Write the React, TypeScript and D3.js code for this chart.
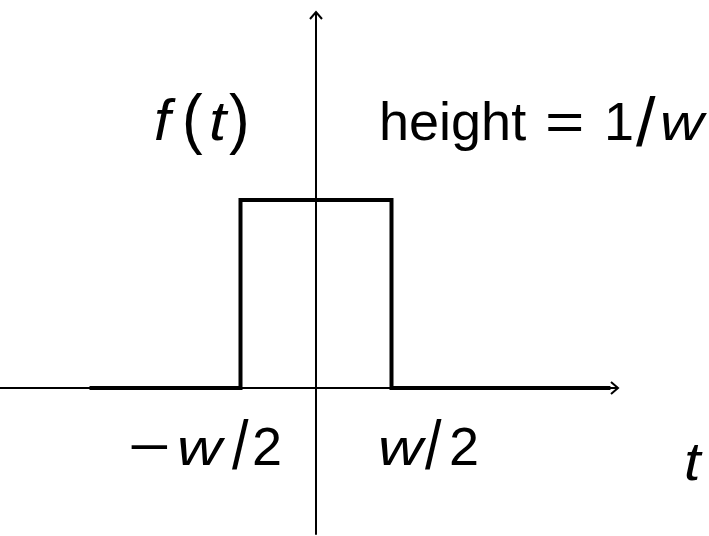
import React from "react";
import * as d3 from "d3";

// Rectangular pulse of width w and height 1/w (w = 1)
const pulseT = [-1.5, -0.5, -0.5, 0.5, 0.5, 1.95];
const pulseF = [0, 0, 1, 1, 0, 0];
const tAxisExtent = [-2.1, 2.0];
const fAxisExtent = [-0.78, 2.0];

const W = 709;
const H = 536;
const FONT = "'Liberation Sans', Arial, sans-serif";
const FS = 54;

type GlyphProps = {
  x: number;
  y: number;
  italic?: boolean;
  sx?: number;
  sy?: number;
  children: React.ReactNode;
};

// One glyph on its own baseline, stretched about that baseline when needed
function G({ x, y, italic = false, sx = 1, sy = 1, children }: GlyphProps) {
  return (
    <text
      transform={`translate(${x},${y}) scale(${sx},${sy})`}
      fontSize={FS}
      fontStyle={italic ? "italic" : "normal"}
    >
      {children}
    </text>
  );
}

export default function App() {
  const x = d3.scaleLinear().domain([-0.5, 0.5]).range([240.5, 391.5]);
  const y = d3.scaleLinear().domain([0, 1]).range([388, 200]);

  const pulseLine = d3
    .line<number>()
    .x((_, i) => x(pulseT[i]))
    .y((d) => y(d))
    .curve(d3.curveLinear);

  const x0 = x(0);
  const y0 = y(0);
  const xEnd = x(tAxisExtent[1]);
  const yTop = y(fAxisExtent[1]);
  const aL = 7;
  const aW = 6;

  const topBase = 140;
  const lowBase = 465;

  return (
    <svg
      width={W}
      height={H}
      style={{ position: "absolute", left: 0, top: 0, background: "#fff" }}
      fontFamily={FONT}
      fill="#000"
    >
      {/* axes */}
      <line x1={x(tAxisExtent[0])} x2={xEnd} y1={y0} y2={y0} stroke="#000" strokeWidth={2} />
      <line x1={x0} x2={x0} y1={y(fAxisExtent[0])} y2={yTop} stroke="#000" strokeWidth={2} />
      <path
        d={`M${xEnd - aL},${y0 - aW} L${xEnd},${y0} L${xEnd - aL},${y0 + aW}`}
        fill="none"
        stroke="#000"
        strokeWidth={2}
      />
      <path
        d={`M${x0 - aW},${yTop + aL} L${x0},${yTop} L${x0 + aW},${yTop + aL}`}
        fill="none"
        stroke="#000"
        strokeWidth={2}
      />

      {/* pulse */}
      <path
        d={pulseLine(pulseF) ?? ""}
        fill="none"
        stroke="#000"
        strokeWidth={4}
        strokeLinejoin="miter"
      />

      {/* f(t) */}
      <G x={154} y={topBase} italic sx={1.1} sy={1.05}>f</G>
      <G x={182} y={topBase + 1} sx={1.15} sy={1.22}>(</G>
      <G x={209} y={topBase} italic sx={1.15} sy={1.03}>t</G>
      <G x={229} y={topBase + 1} sx={1.15} sy={1.22}>)</G>

      {/* height = 1/w */}
      <G x={379} y={topBase}>height</G>
      <G x={545} y={topBase} sx={1.25}>=</G>
      <G x={604} y={topBase}>1</G>
      <G x={636} y={topBase + 6} sx={1.3} sy={1.27}>/</G>
      <G x={660} y={topBase} italic sx={1.12} sy={0.92}>w</G>

      {/* -w/2 */}
      <G x={128} y={lowBase} sx={1.35}>−</G>
      <G x={177} y={lowBase} italic sx={1.15} sy={0.92}>w</G>
      <G x={232} y={lowBase + 4} sx={1.1} sy={1.27}>/</G>
      <G x={252} y={lowBase}>2</G>

      {/* w/2 */}
      <G x={378} y={lowBase} italic sx={1.15} sy={0.92}>w</G>
      <G x={425} y={lowBase + 4} sx={1.1} sy={1.27}>/</G>
      <G x={449} y={lowBase}>2</G>

      {/* t */}
      <G x={684} y={480} italic sx={1.1}>t</G>
    </svg>
  );
}
